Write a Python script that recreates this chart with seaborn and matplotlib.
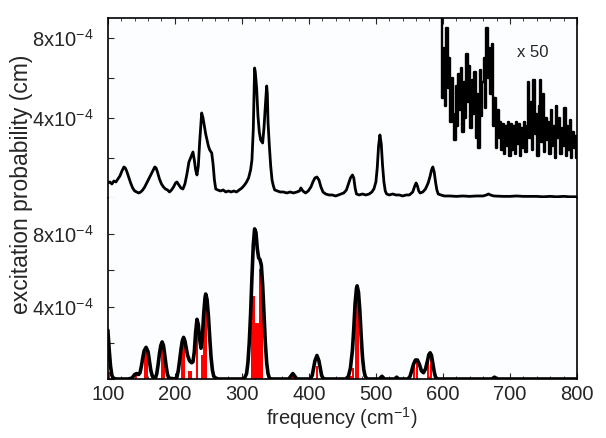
import numpy as np
import pandas as pd
import matplotlib
matplotlib.use("Agg")
import matplotlib.pyplot as plt
import seaborn as sns
from matplotlib.ticker import FixedLocator, FixedFormatter, MultipleLocator

# ---------------- data (y values in units of 1e-4 cm) ----------------
UNIT = 1e-4

# upper panel: experimental spectrum
exp_freq = [100, 103, 106, 109, 112, 115, 118, 121, 124, 126, 128, 131, 134, 137, 140, 143, 146, 149,
            152, 155, 158, 161, 164, 167, 170, 172, 174, 177, 180, 183, 186, 189, 192, 195, 198, 201,
            203, 206, 209, 212, 215, 218, 221, 224, 227, 229, 231, 233, 235, 237, 239, 240, 242, 244,
            246, 248, 250, 252, 255, 257, 259, 261, 264, 268, 272, 276, 280, 284, 288, 292, 296, 300,
            304, 307, 310, 313, 315, 317, 318, 319, 320, 322, 324, 326, 328, 331, 333, 335, 337, 338,
            339, 341, 343, 345, 347, 349, 353, 357, 362, 367, 372, 377, 382, 386, 388, 391, 395, 399,
            403, 406, 409, 412, 415, 418, 421, 425, 430, 435, 440, 444, 448, 452, 456, 459, 462, 465,
            467, 469, 471, 475, 480, 485, 490, 494, 497, 500, 502, 504, 506, 508, 510, 512, 514, 516,
            520, 525, 530, 535, 540, 545, 550, 555, 558, 560, 562, 564, 566, 570, 574, 578, 581, 583,
            585, 587, 589, 591, 593, 597, 602, 610, 620, 630, 640, 650, 660, 665, 668, 671, 676, 690,
            700, 710, 720, 730, 740, 750, 760, 770, 780, 790, 800]
exp_prob = [0.75, 0.8, 0.7, 0.85, 0.8, 0.95, 1.1, 1.35, 1.55, 1.5, 1.35, 1.05, 0.75, 0.5, 0.35, 0.3, 0.25, 0.3,
            0.4, 0.55, 0.75, 0.95, 1.15, 1.35, 1.55, 1.5, 1.3, 0.95, 0.7, 0.55, 0.45, 0.4, 0.3, 0.4, 0.55, 0.75,
            0.8, 0.65, 0.5, 0.45, 0.7, 1.2, 1.8, 2.05, 2.3, 1.9, 1.4, 1.15, 1.6, 2.8, 3.8, 4.25, 4.0, 3.6,
            3.2, 2.9, 2.6, 2.4, 2.25, 1.7, 0.9, 0.45, 0.4, 0.35, 0.4, 0.3, 0.35, 0.3, 0.35, 0.3, 0.4, 0.5,
            0.65, 0.8, 1.0, 1.4, 1.9, 3.4, 5.0, 6.5, 6.3, 5.5, 4.1, 3.3, 2.9, 2.75, 3.5, 4.6, 5.6, 5.2,
            3.8, 2.6, 1.6, 0.9, 0.6, 0.4, 0.35, 0.3, 0.3, 0.25, 0.3, 0.25, 0.3, 0.35, 0.5, 0.35, 0.25, 0.35,
            0.55, 0.8, 1.0, 1.05, 0.9, 0.55, 0.3, 0.2, 0.15, 0.15, 0.1, 0.15, 0.2, 0.25, 0.4, 0.7, 1.0, 1.15,
            1.0, 0.5, 0.2, 0.15, 0.2, 0.15, 0.2, 0.3, 0.45, 0.8, 1.5, 2.6, 3.15, 2.7, 1.6, 0.8, 0.35, 0.2,
            0.15, 0.2, 0.15, 0.15, 0.1, 0.15, 0.15, 0.3, 0.6, 0.75, 0.6, 0.35, 0.25, 0.3, 0.45, 0.75, 1.1, 1.4,
            1.55, 1.3, 0.8, 0.4, 0.2, 0.15, 0.1, 0.1, 0.08, 0.1, 0.08, 0.1, 0.1, 0.15, 0.2, 0.15, 0.1, 0.08,
            0.08, 0.1, 0.08, 0.08, 0.08, 0.06, 0.08, 0.06, 0.08, 0.06, 0.06]

# upper panel: x 50 magnified part
mag_freq = list(range(598, 802, 2))
mag_prob = [9.4, 5.0, 7.5, 4.6, 8.5, 5.5, 7.0, 3.8, 6.0, 4.2, 2.9, 5.6, 3.6, 6.2, 4.4, 6.5, 3.3, 5.8,
            4.0, 7.2, 4.8, 6.6, 3.5, 5.9, 4.2, 6.3, 3.0, 5.2, 2.5, 6.4, 4.1, 5.8, 7.0, 4.5, 8.5, 6.0,
            7.5, 5.2, 7.7, 3.6, 5.0, 2.5, 4.4, 3.0, 3.8, 2.4, 3.7, 2.2, 3.6, 2.6, 3.8, 2.1, 3.7, 2.4,
            3.6, 2.2, 3.8, 2.7, 3.7, 2.1, 3.5, 2.5, 3.8, 2.3, 3.6, 5.8, 3.0, 4.8, 2.4, 5.9, 3.2, 4.2,
            2.1, 4.6, 5.9, 2.8, 5.2, 2.3, 4.0, 2.9, 3.8, 2.2, 4.4, 2.6, 3.6, 2.0, 4.6, 3.0, 4.0, 2.2,
            3.5, 2.6, 4.5, 2.1, 3.6, 2.4, 3.9, 2.0, 3.3, 2.5, 3.1, 2.0]

# lower panel: calculated (broadened) spectrum
calc_freq = [100, 102, 104, 106, 108, 112, 130, 136, 140, 143, 146, 148, 150, 152, 154, 157, 160, 162,
             164, 166, 168, 171, 173, 175, 177, 179, 181, 183, 185, 187, 189, 191, 200, 203, 205, 207,
             209, 211, 213, 215, 217, 219, 222, 225, 227, 229, 231, 233, 235, 237, 239, 241, 243, 245,
             246, 248, 250, 252, 254, 256, 258, 261, 265, 300, 304, 307, 309, 311, 313, 315, 317, 319,
             321, 323, 325, 327, 329, 331, 333, 335, 337, 339, 341, 344, 370, 373, 376, 379, 382, 402,
             405, 407, 409, 412, 415, 417, 419, 421, 424, 455, 459, 462, 465, 467, 469, 471, 472, 474,
             476, 478, 480, 482, 484, 487, 505, 509, 513, 528, 531, 534, 548, 551, 553, 556, 559, 562,
             565, 568, 571, 574, 577, 579, 581, 583, 585, 587, 589, 592, 673, 677, 681, 800]
calc_prob = [2.7, 1.6, 0.7, 0.2, 0.05, 0.0, 0.0, 0.05, 0.25, 0.3, 0.25, 0.35, 0.7, 1.15, 1.55, 1.75, 1.5, 1.0,
             0.5, 0.2, 0.05, 0.05, 0.3, 0.8, 1.4, 1.85, 2.05, 1.85, 1.3, 0.7, 0.25, 0.05, 0.0, 0.1, 0.45, 1.0,
             1.6, 2.1, 2.3, 2.1, 1.7, 1.3, 1.0, 0.9, 0.95, 1.5, 2.6, 3.3, 3.0, 2.2, 1.7, 2.3, 3.6, 4.5,
             4.7, 4.4, 3.5, 2.3, 1.2, 0.5, 0.15, 0.05, 0.0, 0.0, 0.05, 0.3, 0.9, 2.0, 3.6, 5.6, 7.4, 8.3,
             8.1, 7.2, 6.7, 6.6, 6.3, 5.2, 3.6, 2.0, 0.9, 0.3, 0.05, 0.0, 0.0, 0.15, 0.3, 0.15, 0.0, 0.0,
             0.2, 0.6, 1.0, 1.3, 1.0, 0.6, 0.2, 0.05, 0.0, 0.0, 0.15, 0.6, 1.6, 2.8, 4.2, 5.0, 5.15, 4.8,
             3.8, 2.4, 1.2, 0.5, 0.15, 0.0, 0.0, 0.15, 0.0, 0.0, 0.1, 0.0, 0.0, 0.15, 0.4, 0.8, 1.05, 1.05,
             0.8, 0.45, 0.35, 0.55, 1.0, 1.35, 1.45, 1.3, 0.85, 0.4, 0.1, 0.0, 0.0, 0.1, 0.0, 0.0]

# lower panel: individual transitions (sticks)
stick_freq = [101, 125, 142, 155, 158, 181, 183, 211, 214, 221, 224, 233, 240, 244, 247, 262, 289,
              315, 318, 321, 324, 327, 330, 336, 376, 412, 463, 466, 470, 473, 509, 531, 557, 561,
              578, 582, 618, 636, 651, 678, 697, 715, 730, 740, 749, 763, 770, 779]
stick_prob = [0.4, 0.08, 0.25, 1.5, 1.5, 2.0, 1.9, 2.1, 2.0, 0.45, 0.45, 3.2, 1.3, 4.2, 4.2, 0.1, 0.08,
              4.6, 4.6, 3.1, 3.1, 6.1, 6.1, 0.08, 0.3, 0.7, 0.15, 0.6, 5.0, 5.0, 0.15, 0.1, 0.95, 0.95,
              0.95, 1.1, 0.07, 0.07, 0.07, 0.1, 0.07, 0.07, 0.07, 0.07, 0.07, 0.07, 0.07, 0.07]

yticks_vals = [0, 2, 4, 6, 8]
ytick_labels = ["", "", "4x10$^{-4}$", "", "8x10$^{-4}$"]
xticks_vals = [100, 200, 300, 400, 500, 600, 700, 800]

# ---------------- figure ----------------
sns.set_style("ticks")
plt.rcParams["font.family"] = ["Liberation Sans", "DejaVu Sans"]
plt.rcParams["mathtext.default"] = "regular"

bg = "#fcfdff"
fig = plt.figure(figsize=(6.06, 4.38), dpi=100, facecolor="white")
ax_top = fig.add_axes([0.178, 0.548, 0.774, 0.411])
ax_bot = fig.add_axes([0.178, 0.1347, 0.774, 0.413])

exp_df = pd.DataFrame({"freq": exp_freq, "prob": np.array(exp_prob) * UNIT})
mag_df = pd.DataFrame({"freq": mag_freq, "prob": np.array(mag_prob) * UNIT})
calc_df = pd.DataFrame({"freq": calc_freq, "prob": np.array(calc_prob) * UNIT})

sns.lineplot(data=exp_df, x="freq", y="prob", ax=ax_top, color="black", lw=2.0,
             estimator=None, sort=False)
sns.lineplot(data=mag_df, x="freq", y="prob", ax=ax_top, color="black", lw=1.7,
             estimator=None, sort=False, drawstyle="steps-mid")
ax_top.text(734, 7.25 * UNIT, "x 50", fontsize=12, ha="center", va="center")

ax_bot.bar(stick_freq, np.array(stick_prob) * UNIT, width=3.2, color="#ff0000",
           linewidth=0, zorder=2)
sns.lineplot(data=calc_df, x="freq", y="prob", ax=ax_bot, color="black", lw=2.6,
             estimator=None, sort=False, zorder=3)

for ax, ymax in ((ax_top, 9), (ax_bot, 10)):
    ax.set_facecolor(bg)
    ax.set_xlim(100, 800)
    ax.set_ylim(0, ymax * UNIT)
    ax.yaxis.set_major_locator(FixedLocator([v * UNIT for v in yticks_vals]))
    ax.yaxis.set_major_formatter(FixedFormatter(ytick_labels))
    ax.xaxis.set_major_locator(FixedLocator(xticks_vals))
    ax.xaxis.set_minor_locator(MultipleLocator(20))
    ax.set_xlabel("")
    ax.set_ylabel("")
    for s in ax.spines.values():
        s.set_linewidth(1.2)
        s.set_color("black")
    ax.tick_params(axis="y", which="major", direction="in", length=4, width=0.8,
                   labelsize=14.5, pad=10, left=True, right=False)
    ax.tick_params(axis="x", which="major", direction="in", length=4, width=0.8, labelsize=14.5, pad=4)
    ax.tick_params(axis="x", which="minor", direction="in", length=2.5, width=0.6)

ax_top.spines["bottom"].set_visible(False)
ax_top.tick_params(axis="x", which="both", bottom=False, top=True, labelbottom=False)
ax_bot.spines["top"].set_visible(False)
ax_bot.tick_params(axis="x", which="both", bottom=True, top=False)

fig.text(0.036, 0.58, "excitation probability (cm)", rotation=90, fontsize=16.5,
         ha="center", va="center")
fig.text(0.564, 0.046, "frequency (cm$^{-1}$)", fontsize=14.5, ha="center", va="center")

fig.savefig("out.png", dpi=100, facecolor="white")
